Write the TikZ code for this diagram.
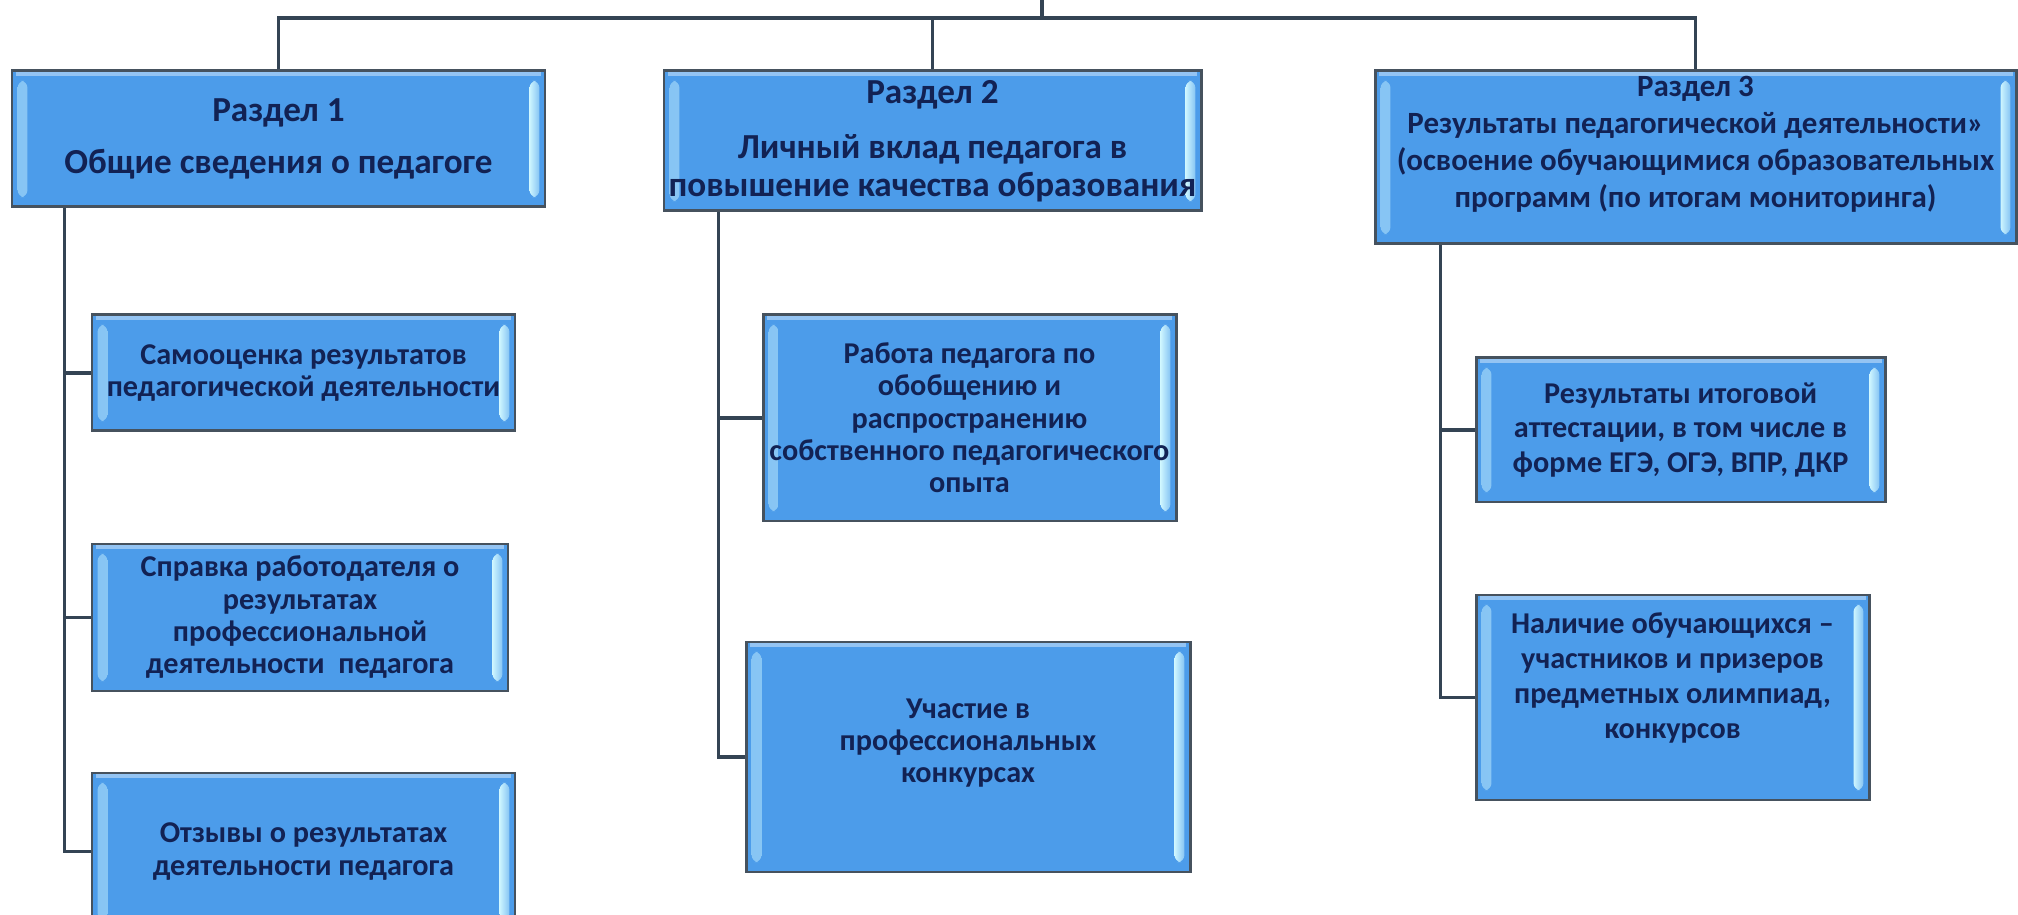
\documentclass[tikz,border=0pt]{standalone}
\usepackage{fontspec}
\setmainfont{Carlito}
\usetikzlibrary{fit, calc}
\definecolor{boxblue}{RGB}{76,156,234}
\definecolor{boxline}{RGB}{70,82,94}
\definecolor{linkcol}{RGB}{52,68,84}
\definecolor{bevel}{RGB}{205,245,255}
\definecolor{inkblue}{RGB}{18,34,84}
\newcommand{\bevelpic}{%
    \shade[left color=boxblue!55!bevel, right color=bevel, rounded corners=2pt]
        ([xshift=1.6pt,yshift=-2.8pt]path picture bounding box.north west) rectangle ([xshift=4.4pt,yshift=2.8pt]path picture bounding box.south west);
    \shade[left color=bevel, right color=boxblue!55!bevel, rounded corners=2pt]
        ([xshift=-4.4pt,yshift=-2.8pt]path picture bounding box.north east) rectangle ([xshift=-1.6pt,yshift=2.8pt]path picture bounding box.south east);
    \fill[boxblue!60!white] ([xshift=1pt,yshift=-0.4pt]path picture bounding box.north west) rectangle ([xshift=-1pt,yshift=-1.3pt]path picture bounding box.north east);
}
\tikzset{
  secbox/.style={rectangle, draw=boxline, line width=0.85pt, fill=boxblue, inner sep=0pt, path picture={\bevelpic}},
  headtext/.style={align=center, text=inkblue, font=\fontsize{10}{10.8}\selectfont\bfseries, inner sep=0pt},
  smalltext/.style={align=center, text=inkblue, font=\fontsize{8.8}{10.5}\selectfont\bfseries, inner sep=0pt},
  subtext/.style={align=center, text=inkblue, font=\fontsize{8.6}{9.2}\selectfont\bfseries, inner sep=0pt},
  link/.style={draw=linkcol, line width=1.1pt}
}

\begin{document}
\begin{tikzpicture}[x=0.1mm, y=-0.1mm]
    \useasboundingbox (0,0) rectangle (2018,915);

    % 1. Secciones superiores
    \node[secbox, fit={(12,71) (545,207)}] (r1) {};
    \node[headtext] (r1t) at (r1.center) {Раздел 1\\[4.2pt]Общие сведения о педагоге};

    \node[secbox, fit={(664,71) (1201,211)}] (r2) {};
    \node[headtext] (r2t) at (r2.center) {Раздел 2\\[4.8pt]Личный вклад педагога в\\повышение качества образования};

    \node[secbox, fit={(1375,71) (2016,244)}] (r3) {};
    \node[smalltext] (r3t) at ([yshift=3.8pt]r3.center) {Раздел 3\\Результаты педагогической деятельности»\\(освоение обучающимися образовательных\\программ (по итогам мониторинга)};

    % 2. Bloques de la seccion 1
    \node[secbox, fit={(92,315) (515,431)}] (s1a) {};
    \node[subtext] (s1at) at (s1a.center) {Самооценка результатов\\педагогической деятельности};

    \node[secbox, fit={(92,544) (508,691)}] (s1b) {};
    \node[subtext] (s1bt) at (s1b.center) {Справка работодателя о\\результатах\\профессиональной\\деятельности~~педагога};

    \node[secbox, fit={(92,773) (515,930)}] (s1c) {};
    \node[subtext] (s1ct) at (s1c.center) {Отзывы о результатах\\деятельности педагога};

    % 3. Bloques de la seccion 2
    \node[secbox, fit={(763,315) (1176,521)}] (s2a) {};
    \node[subtext] (s2at) at (s2a.center) {Работа педагога по\\обобщению и\\распространению\\собственного педагогического\\опыта};

    \node[secbox, fit={(746,642) (1190,872)}] (s2b) {};
    \node[subtext] (s2bt) at ([yshift=4pt]s2b.center) {Участие в\\профессиональных\\конкурсах};

    % 4. Bloques de la seccion 3
    \node[secbox, fit={(1476,358) (1885,502)}] (s3a) {};
    \node[subtext, font=\fontsize{8.6}{9.8}\selectfont\bfseries] (s3at) at (s3a.center) {Результаты итоговой\\аттестации, в том числе в\\форме ЕГЭ, ОГЭ, ВПР, ДКР};

    \node[secbox, fit={(1476,595) (1869,800)}] (s3b) {};
    \node[subtext, font=\fontsize{8.6}{10}\selectfont\bfseries] (s3bt) at ([yshift=5.5pt]s3b.center) {Наличие обучающихся –\\участников и призеров\\предметных олимпиад,\\конкурсов};

    % 5. Conexiones
    \coordinate (stub) at (1042,0);
    \coordinate (bus) at (1042,18);
    \draw[link] (stub) -- (bus);
    \draw[link] (r1.north) |- (bus) -| (r3.north);
    \draw[link] (r2.north) -- (r2.north |- bus);

    \coordinate (t1) at ($(r1.south west)+(54,0)$);
    \coordinate (t2) at ($(r2.south west)+(56,0)$);
    \coordinate (t3) at ($(r3.south west)+(67,0)$);

    \draw[link] (t1) |- (s1a.west);
    \draw[link] (t1) |- (s1b.west);
    \draw[link] (t1) |- (s1c.west);

    \draw[link] (t2) |- (s2a.west);
    \draw[link] (t2) |- (s2b.west);

    \draw[link] (t3) |- (s3a.west);
    \draw[link] (t3) |- (s3b.west);

\end{tikzpicture}
\end{document}
